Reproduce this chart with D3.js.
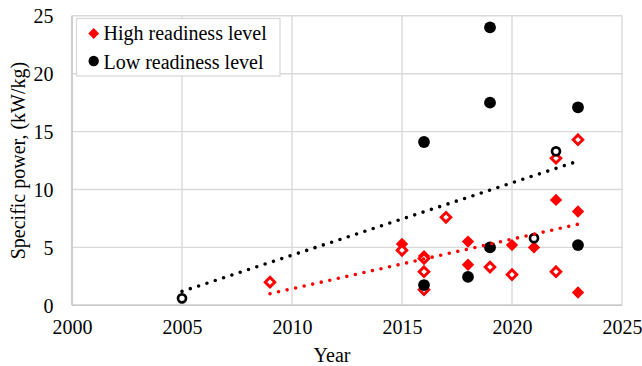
<!DOCTYPE html>
<html>
<head>
<meta charset="utf-8">
<script src="https://cdn.jsdelivr.net/npm/d3@7"></script>
<style>
  html, body { margin: 0; padding: 0; background: #fff; }
  svg text { font-family: "Liberation Serif", "Times New Roman", serif; fill: #000; }
</style>
</head>
<body>
<svg id="chart" width="642" height="366"></svg>
<script>
// Specific power by year, two readiness levels.
// Each level has filled and hollow markers.
const highFilledYears  = [2015, 2016, 2018, 2018, 2020, 2021, 2022, 2023, 2023];
const highFilledValues = [5.3, 4.25, 5.5, 3.5, 5.2, 5.0, 9.1, 8.1, 1.1];
const highOpenYears    = [2009, 2015, 2016, 2016, 2016, 2017, 2019, 2020, 2022, 2022, 2023];
const highOpenValues   = [2.0, 4.75, 4.05, 2.9, 1.35, 7.6, 3.3, 2.65, 2.9, 12.7, 14.3];
const lowFilledYears   = [2016, 2016, 2018, 2019, 2019, 2019, 2023, 2023];
const lowFilledValues  = [14.1, 1.75, 2.45, 24.0, 17.5, 5.0, 17.1, 5.2];
const lowOpenYears     = [2005, 2021, 2022];
const lowOpenValues    = [0.6, 5.8, 13.3];

// Linear trend lines (start and end points)
const highTrendYears  = [2009, 2023];
const highTrendValues = [1.0, 7.0];
const lowTrendYears   = [2005, 2023];
const lowTrendValues  = [1.2, 12.45];

const xTicks = [2000, 2005, 2010, 2015, 2020, 2025];
const yTicks = [0, 5, 10, 15, 20, 25];
const legendLabels = ["High readiness level", "Low readiness level"];

const RED = "#ff0000", BLACK = "#000000", GRID = "#d9d9d9";
const SERIF = "'Liberation Serif', 'Times New Roman', serif";

const svg = d3.select("#chart");
const x = d3.scaleLinear().domain([2000, 2025]).range([72, 622]);
const y = d3.scaleLinear().domain([0, 25]).range([305.3, 15.8]);

// Gridlines
const grid = svg.append("g");
grid.selectAll("line.v").data(xTicks).join("line")
  .attr("x1", d => x(d)).attr("x2", d => x(d))
  .attr("y1", y(0)).attr("y2", y(25))
  .attr("stroke", GRID).attr("stroke-width", 1.4);
grid.selectAll("line.h").data(yTicks).join("line")
  .attr("x1", x(2000)).attr("x2", x(2025))
  .attr("y1", d => y(d)).attr("y2", d => y(d))
  .attr("stroke", GRID).attr("stroke-width", 1.4);
// Axis lines
svg.append("line").attr("x1", x(2000)).attr("x2", x(2025)).attr("y1", y(0)).attr("y2", y(0))
  .attr("stroke", "#c8c8c8").attr("stroke-width", 1.6);
svg.append("line").attr("x1", x(2000)).attr("x2", x(2000)).attr("y1", y(0)).attr("y2", y(25))
  .attr("stroke", "#c8c8c8").attr("stroke-width", 1.6);

// Axes labels
const xAxis = d3.axisBottom(x).tickValues(xTicks).tickFormat(d3.format("d")).tickSize(0).tickPadding(0);
const gx = svg.append("g").attr("transform", `translate(0,${y(0)})`).call(xAxis)
  .attr("font-family", SERIF).attr("font-size", 20);
gx.select(".domain").remove();
gx.selectAll("text").attr("dy", null).attr("y", 28.5);

const yAxis = d3.axisLeft(y).tickValues(yTicks).tickSize(0).tickPadding(0);
const gy = svg.append("g").attr("transform", `translate(53.5,0)`).call(yAxis)
  .attr("font-family", SERIF).attr("font-size", 20);
gy.select(".domain").remove();
gy.selectAll("text").attr("x", 0).attr("dy", "0.34em");

// Axis titles
svg.append("text").attr("x", 332).attr("y", 362).attr("text-anchor", "middle")
  .attr("font-size", 20).text("Year");
svg.append("text").attr("transform", `translate(25,${(y(0) + y(25)) / 2}) rotate(-90)`)
  .attr("text-anchor", "middle").attr("font-size", 20).text("Specific power, (kW/kg)");

// Marker shapes
const diamond = r => `M0,${-r}L${r},0L0,${r}L${-r},0Z`;
const zip = (xs, ys) => xs.map((d, i) => [d, ys[i]]);

const marks = svg.append("g");
function drawDiamonds(data, filled) {
  marks.append("g").selectAll("path").data(data).join("path")
    .attr("transform", d => `translate(${x(d[0])},${y(d[1])})`)
    .attr("d", filled ? diamond(6.2) : diamond(4.8))
    .attr("fill", filled ? RED : "#fff")
    .attr("stroke", filled ? "none" : RED)
    .attr("stroke-width", filled ? 0 : 2.9);
}
function drawCircles(data, filled) {
  marks.append("g").selectAll("circle").data(data).join("circle")
    .attr("cx", d => x(d[0])).attr("cy", d => y(d[1]))
    .attr("r", filled ? 5.9 : 4.0)
    .attr("fill", filled ? BLACK : "#fff")
    .attr("stroke", filled ? "none" : BLACK)
    .attr("stroke-width", filled ? 0 : 2.7);
}
drawDiamonds(zip(highFilledYears, highFilledValues), true);
drawDiamonds(zip(highOpenYears, highOpenValues), false);
drawCircles(zip(lowFilledYears, lowFilledValues), true);
drawCircles(zip(lowOpenYears, lowOpenValues), false);

// Dotted trend lines
const line = d3.line().x(d => x(d[0])).y(d => y(d[1]));
function drawTrend(data, color) {
  svg.append("path").datum(data).attr("d", line)
    .attr("fill", "none").attr("stroke", color).attr("stroke-width", 3.6)
    .attr("stroke-linecap", "round").attr("stroke-dasharray", "0 8.75");
}
drawTrend(zip(highTrendYears, highTrendValues), RED);
drawTrend(zip(lowTrendYears, lowTrendValues), BLACK);

// Legend
const lg = svg.append("g");
lg.append("rect").attr("x", 76.5).attr("y", 18.5).attr("width", 203.5).attr("height", 57.5)
  .attr("fill", "#fff").attr("stroke", GRID).attr("stroke-width", 1.3);
lg.append("path").attr("transform", "translate(93.7,33.5)").attr("d", diamond(5.4)).attr("fill", RED);
lg.append("circle").attr("cx", 93.7).attr("cy", 61).attr("r", 5.2).attr("fill", BLACK);
lg.selectAll("text").data(legendLabels).join("text")
  .attr("x", 103.5).attr("y", (d, i) => 40 + i * 28.8)
  .attr("font-size", 20).text(d => d);
</script>
</body>
</html>
